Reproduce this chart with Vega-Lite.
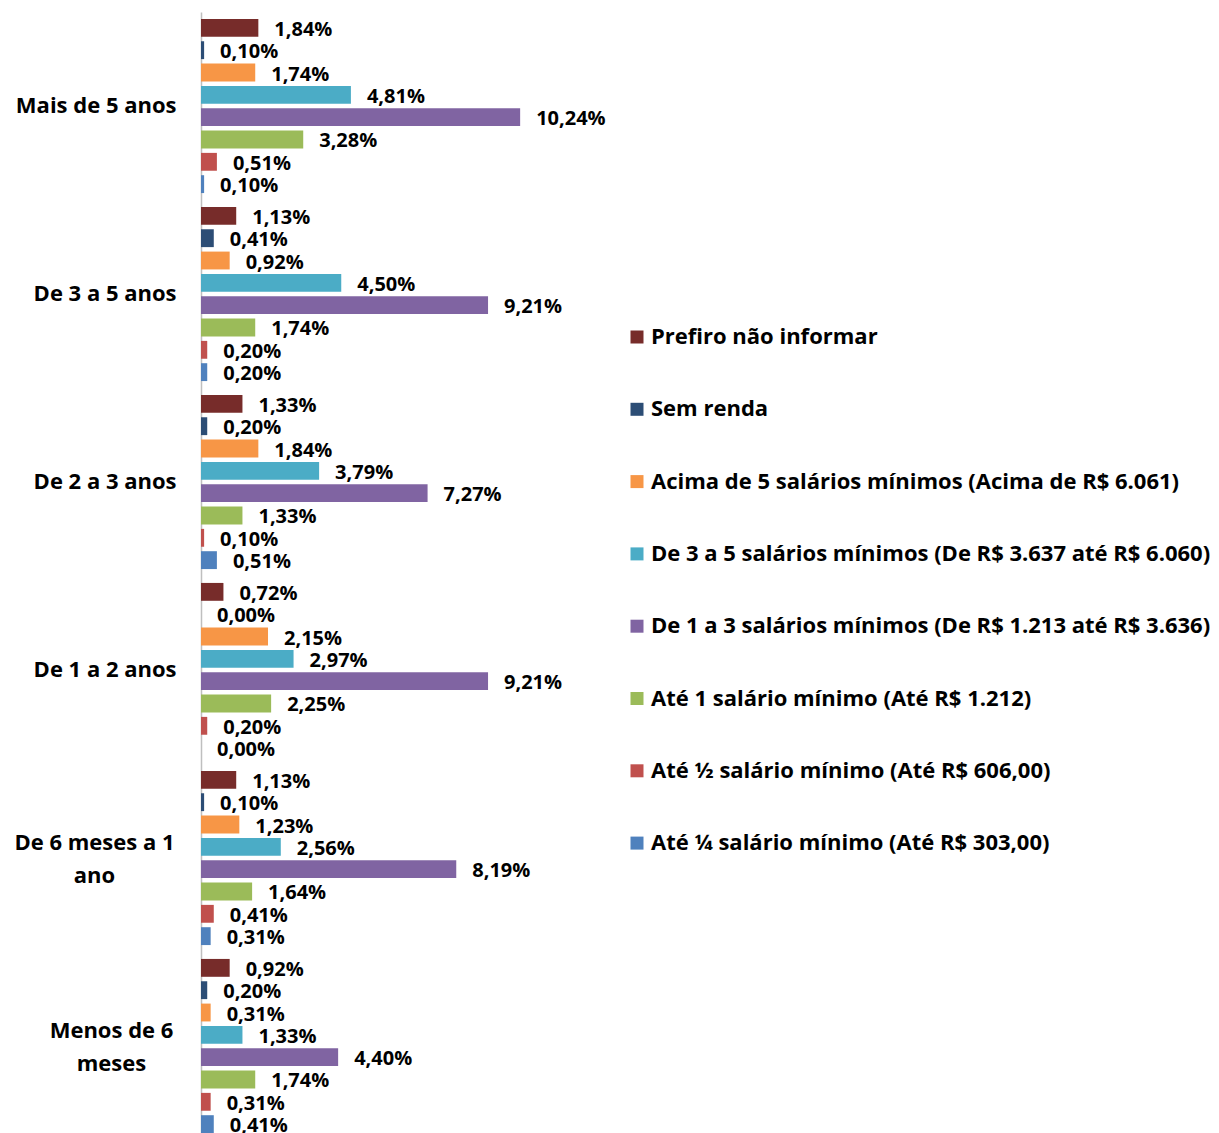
{
  "$schema": "https://vega.github.io/schema/vega-lite/v6.json",
  "autosize": "none",
  "padding": {"left": 201, "top": 12, "right": 644, "bottom": 0},
  "width": 374,
  "height": 1128,
  "config": {
    "view": {"stroke": null},
    "locale": {"number": {"decimal": ",", "thousands": ".", "grouping": [3], "currency": ["R$ ", ""]}},
    "font": "Open Sans"
  },
  "data": {
    "values": [
      {"g": "Mais de 5 anos", "s": "Prefiro não informar", "v": 0.0184},
      {"g": "Mais de 5 anos", "s": "Sem renda", "v": 0.0010},
      {"g": "Mais de 5 anos", "s": "Acima de 5 salários mínimos (Acima de R$ 6.061)", "v": 0.0174},
      {"g": "Mais de 5 anos", "s": "De 3 a 5 salários mínimos (De R$ 3.637 até R$ 6.060)", "v": 0.0481},
      {"g": "Mais de 5 anos", "s": "De 1 a 3 salários mínimos (De R$ 1.213 até R$ 3.636)", "v": 0.1024},
      {"g": "Mais de 5 anos", "s": "Até 1 salário mínimo (Até R$ 1.212)", "v": 0.0328},
      {"g": "Mais de 5 anos", "s": "Até ½ salário mínimo (Até R$ 606,00)", "v": 0.0051},
      {"g": "Mais de 5 anos", "s": "Até ¼ salário mínimo (Até R$ 303,00)", "v": 0.0010},
      {"g": "De 3 a 5 anos", "s": "Prefiro não informar", "v": 0.0113},
      {"g": "De 3 a 5 anos", "s": "Sem renda", "v": 0.0041},
      {"g": "De 3 a 5 anos", "s": "Acima de 5 salários mínimos (Acima de R$ 6.061)", "v": 0.0092},
      {"g": "De 3 a 5 anos", "s": "De 3 a 5 salários mínimos (De R$ 3.637 até R$ 6.060)", "v": 0.0450},
      {"g": "De 3 a 5 anos", "s": "De 1 a 3 salários mínimos (De R$ 1.213 até R$ 3.636)", "v": 0.0921},
      {"g": "De 3 a 5 anos", "s": "Até 1 salário mínimo (Até R$ 1.212)", "v": 0.0174},
      {"g": "De 3 a 5 anos", "s": "Até ½ salário mínimo (Até R$ 606,00)", "v": 0.0020},
      {"g": "De 3 a 5 anos", "s": "Até ¼ salário mínimo (Até R$ 303,00)", "v": 0.0020},
      {"g": "De 2 a 3 anos", "s": "Prefiro não informar", "v": 0.0133},
      {"g": "De 2 a 3 anos", "s": "Sem renda", "v": 0.0020},
      {"g": "De 2 a 3 anos", "s": "Acima de 5 salários mínimos (Acima de R$ 6.061)", "v": 0.0184},
      {"g": "De 2 a 3 anos", "s": "De 3 a 5 salários mínimos (De R$ 3.637 até R$ 6.060)", "v": 0.0379},
      {"g": "De 2 a 3 anos", "s": "De 1 a 3 salários mínimos (De R$ 1.213 até R$ 3.636)", "v": 0.0727},
      {"g": "De 2 a 3 anos", "s": "Até 1 salário mínimo (Até R$ 1.212)", "v": 0.0133},
      {"g": "De 2 a 3 anos", "s": "Até ½ salário mínimo (Até R$ 606,00)", "v": 0.0010},
      {"g": "De 2 a 3 anos", "s": "Até ¼ salário mínimo (Até R$ 303,00)", "v": 0.0051},
      {"g": "De 1 a 2 anos", "s": "Prefiro não informar", "v": 0.0072},
      {"g": "De 1 a 2 anos", "s": "Sem renda", "v": 0.0000},
      {"g": "De 1 a 2 anos", "s": "Acima de 5 salários mínimos (Acima de R$ 6.061)", "v": 0.0215},
      {"g": "De 1 a 2 anos", "s": "De 3 a 5 salários mínimos (De R$ 3.637 até R$ 6.060)", "v": 0.0297},
      {"g": "De 1 a 2 anos", "s": "De 1 a 3 salários mínimos (De R$ 1.213 até R$ 3.636)", "v": 0.0921},
      {"g": "De 1 a 2 anos", "s": "Até 1 salário mínimo (Até R$ 1.212)", "v": 0.0225},
      {"g": "De 1 a 2 anos", "s": "Até ½ salário mínimo (Até R$ 606,00)", "v": 0.0020},
      {"g": "De 1 a 2 anos", "s": "Até ¼ salário mínimo (Até R$ 303,00)", "v": 0.0000},
      {"g": "De 6 meses a 1 ano", "s": "Prefiro não informar", "v": 0.0113},
      {"g": "De 6 meses a 1 ano", "s": "Sem renda", "v": 0.0010},
      {"g": "De 6 meses a 1 ano", "s": "Acima de 5 salários mínimos (Acima de R$ 6.061)", "v": 0.0123},
      {"g": "De 6 meses a 1 ano", "s": "De 3 a 5 salários mínimos (De R$ 3.637 até R$ 6.060)", "v": 0.0256},
      {"g": "De 6 meses a 1 ano", "s": "De 1 a 3 salários mínimos (De R$ 1.213 até R$ 3.636)", "v": 0.0819},
      {"g": "De 6 meses a 1 ano", "s": "Até 1 salário mínimo (Até R$ 1.212)", "v": 0.0164},
      {"g": "De 6 meses a 1 ano", "s": "Até ½ salário mínimo (Até R$ 606,00)", "v": 0.0041},
      {"g": "De 6 meses a 1 ano", "s": "Até ¼ salário mínimo (Até R$ 303,00)", "v": 0.0031},
      {"g": "Menos de 6 meses", "s": "Prefiro não informar", "v": 0.0092},
      {"g": "Menos de 6 meses", "s": "Sem renda", "v": 0.0020},
      {"g": "Menos de 6 meses", "s": "Acima de 5 salários mínimos (Acima de R$ 6.061)", "v": 0.0031},
      {"g": "Menos de 6 meses", "s": "De 3 a 5 salários mínimos (De R$ 3.637 até R$ 6.060)", "v": 0.0133},
      {"g": "Menos de 6 meses", "s": "De 1 a 3 salários mínimos (De R$ 1.213 até R$ 3.636)", "v": 0.0440},
      {"g": "Menos de 6 meses", "s": "Até 1 salário mínimo (Até R$ 1.212)", "v": 0.0174},
      {"g": "Menos de 6 meses", "s": "Até ½ salário mínimo (Até R$ 606,00)", "v": 0.0031},
      {"g": "Menos de 6 meses", "s": "Até ¼ salário mínimo (Até R$ 303,00)", "v": 0.0041}
    ]
  },
  "encoding": {
    "y": {
      "field": "g", "type": "nominal",
      "sort": ["Mais de 5 anos", "De 3 a 5 anos", "De 2 a 3 anos", "De 1 a 2 anos", "De 6 meses a 1 ano", "Menos de 6 meses"],
      "scale": {"paddingInner": 0.05, "paddingOuter": 0.025},
      "axis": {
        "title": null,
        "ticks": false,
        "tickSize": 0,
        "domainColor": "#BFBFBF",
        "domainWidth": 1.5,
        "labelFont": "Open Sans",
        "labelFontWeight": "bold",
        "labelFontSize": 22,
        "labelColor": "#000000",
        "labelLimit": 500,
        "labelLineHeight": 33,
        "labelExpr": "datum.value == 'De 6 meses a 1 ano' ? ['De 6 meses a 1', 'ano'] : datum.value == 'Menos de 6 meses' ? ['Menos de 6', 'meses'] : datum.value",
        "labelAlign": {"condition": {"test": "datum.value == 'De 6 meses a 1 ano' || datum.value == 'Menos de 6 meses'", "value": "center"}, "value": "right"},
        "labelOffset": {"condition": {"test": "datum.value == 'De 6 meses a 1 ano' || datum.value == 'Menos de 6 meses'", "value": -15}, "value": 0},
        "labelPadding": {"condition": [{"test": "datum.value == 'De 6 meses a 1 ano'", "value": 107}, {"test": "datum.value == 'Menos de 6 meses'", "value": 90}], "value": 25}
      }
    },
    "yOffset": {
      "field": "s", "type": "nominal",
      "sort": ["Prefiro não informar", "Sem renda", "Acima de 5 salários mínimos (Acima de R$ 6.061)", "De 3 a 5 salários mínimos (De R$ 3.637 até R$ 6.060)", "De 1 a 3 salários mínimos (De R$ 1.213 até R$ 3.636)", "Até 1 salário mínimo (Até R$ 1.212)", "Até ½ salário mínimo (Até R$ 606,00)", "Até ¼ salário mínimo (Até R$ 303,00)"],
      "scale": {"paddingInner": 0.2, "paddingOuter": 0.1}
    },
    "x": {
      "field": "v", "type": "quantitative",
      "scale": {"domain": [0, 0.12], "nice": false},
      "axis": null
    }
  },
  "layer": [
    {
      "mark": {"type": "bar"},
      "encoding": {
        "color": {
          "field": "s", "type": "nominal",
          "scale": {
            "domain": ["Prefiro não informar", "Sem renda", "Acima de 5 salários mínimos (Acima de R$ 6.061)", "De 3 a 5 salários mínimos (De R$ 3.637 até R$ 6.060)", "De 1 a 3 salários mínimos (De R$ 1.213 até R$ 3.636)", "Até 1 salário mínimo (Até R$ 1.212)", "Até ½ salário mínimo (Até R$ 606,00)", "Até ¼ salário mínimo (Até R$ 303,00)"],
            "range": ["#772C2A", "#2C4D75", "#F79646", "#4BACC6", "#8064A2", "#9BBB59", "#C0504D", "#4F81BD"]
          },
          "legend": {
            "title": null,
            "orient": "none",
            "legendX": 425,
            "legendY": 314,
            "padding": 0,
            "symbolType": "square",
            "symbolSize": 169,
            "symbolStrokeWidth": 0,
            "labelFont": "Open Sans",
            "labelFontWeight": "bold",
            "labelFontSize": 22,
            "labelColor": "#000000",
            "labelLimit": 1000,
            "labelOffset": 3,
            "rowPadding": 50.3
          }
        }
      }
    },
    {
      "mark": {"type": "text", "align": "left", "baseline": "middle", "dx": 16, "dy": 2, "font": "Open Sans", "fontWeight": "bold", "fontSize": 20, "color": "#000000"},
      "encoding": {
        "text": {"field": "v", "type": "quantitative", "format": ".2%"}
      }
    }
  ]
}
